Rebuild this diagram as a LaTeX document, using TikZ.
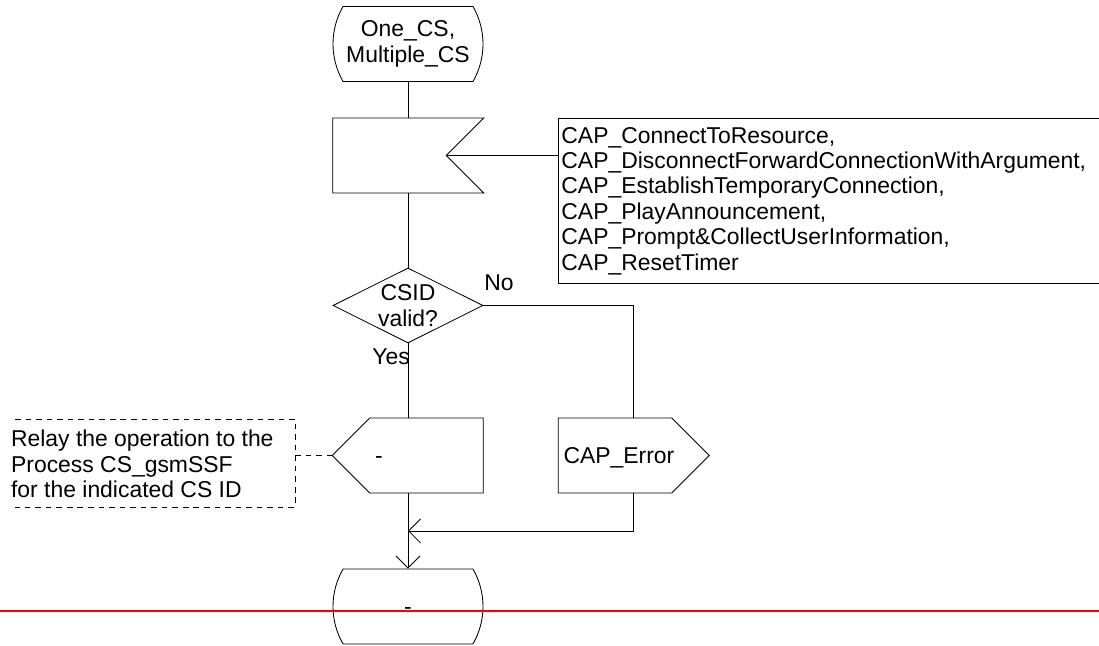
\documentclass[tikz,border=0pt]{standalone}
\usepackage{fontspec}
\setmainfont{Liberation Sans}
\usetikzlibrary{arrows.meta,positioning,calc,shapes.geometric,shapes.symbols,shapes.misc}

\begin{document}
\begin{tikzpicture}[
    font=\fontsize{16.3}{18.1}\selectfont,
    line width=0.6pt,
    term/.style={draw, rounded rectangle, rounded rectangle arc length=60, minimum width=3.75cm, minimum height=1.875cm, inner sep=0pt, align=center},
    inbox/.style={draw, signal, signal to=nowhere, signal from=east, signal pointer angle=90, minimum width=3.775cm, minimum height=1.875cm, inner sep=0pt},
    outbox/.style={draw, signal, signal pointer angle=90, minimum width=3.775cm, minimum height=1.875cm, text width=2.575cm, text height=11.7pt, text depth=0pt, inner xsep=0.125cm, inner ysep=0pt, align=left},
    decision/.style={draw, diamond, aspect=2, minimum width=3.75cm, minimum height=1.875cm, inner sep=0pt, align=center},
    note/.style={draw, anchor=north west, text width=13.85cm, minimum height=4.125cm, inner xsep=0.075cm, align=left},
    bracket/.style={dashed, dash pattern=on 4pt off 3.5pt},
    arr/.style={-{Straight Barb[length=0.3cm, width=0.6cm]}},
]
    % Frame
    \clip (0,0) rectangle (27.475,16.15);
    \fill[white] (0,0) rectangle (27.475,16.15);

    % Start and input
    \node[term] (start) at (10.2, 15.05) {One\_CS,\\Multiple\_CS};
    \node[inbox] (inp) at (9.7375, 12.2625) {};
    \node[note] (ops) at (13.95, 13.2) {CAP\_ConnectToResource,\\CAP\_DisconnectForwardConnectionWithArgument,\\CAP\_EstablishTemporaryConnection,\\CAP\_PlayAnnouncement,\\CAP\_Prompt\&CollectUserInformation,\\CAP\_ResetTimer};

    % Decision
    \node[decision] (csid) at (10.2, 8.5125) {CSID\\valid?};
    \node (no) at (12.475, 9.075) {No};
    \node (yes) at (9.775, 7.225) {Yes};

    % Outputs
    \node[outbox, signal to=west] (relay) at (10.6625, 4.7625) {-};
    \node[outbox, signal to=east] (err) at (15.375, 4.7625) {CAP\_Error};
    \coordinate (errmid) at ($(err.west)!0.5!(err.east)$);

    % Comment on the relay
    \node[anchor=west, align=left] (relaytxt) at (0.15, 4.55) {Relay the operation to the\\Process CS\_gsmSSF\\for the indicated CS ID};
    \coordinate (brk) at (7.375, 4.7625);
    \draw[bracket] (0.375, 5.675) -- (7.375, 5.675) -- (7.375, 3.475) -- (0.375, 3.475);
    \draw[bracket] (brk) -- (relay.west);

    % End
    \node[term, align=none, text height=11.7pt, text depth=0pt] (endt) at (10.2, 0.9875) {-};
    \coordinate (join) at (10.2, 2.875);

    % Connectors
    \draw (start.south) -- (start.south |- inp.north);
    \draw (inp.east) -- (inp.east -| ops.west);
    \draw (start.south |- inp.south) -- (csid.north);
    \draw (csid.east) -| (errmid |- err.north);
    \draw (csid.south) -- (csid.south |- relay.north);
    \draw[arr] (csid.south |- relay.south) -- (endt.north);
    \draw[arr] (errmid |- err.south) |- (join);

    % Page cut
    \draw[red, line width=1.2pt] (0, 0.875) -- (27.475, 0.875);
\end{tikzpicture}
\end{document}
